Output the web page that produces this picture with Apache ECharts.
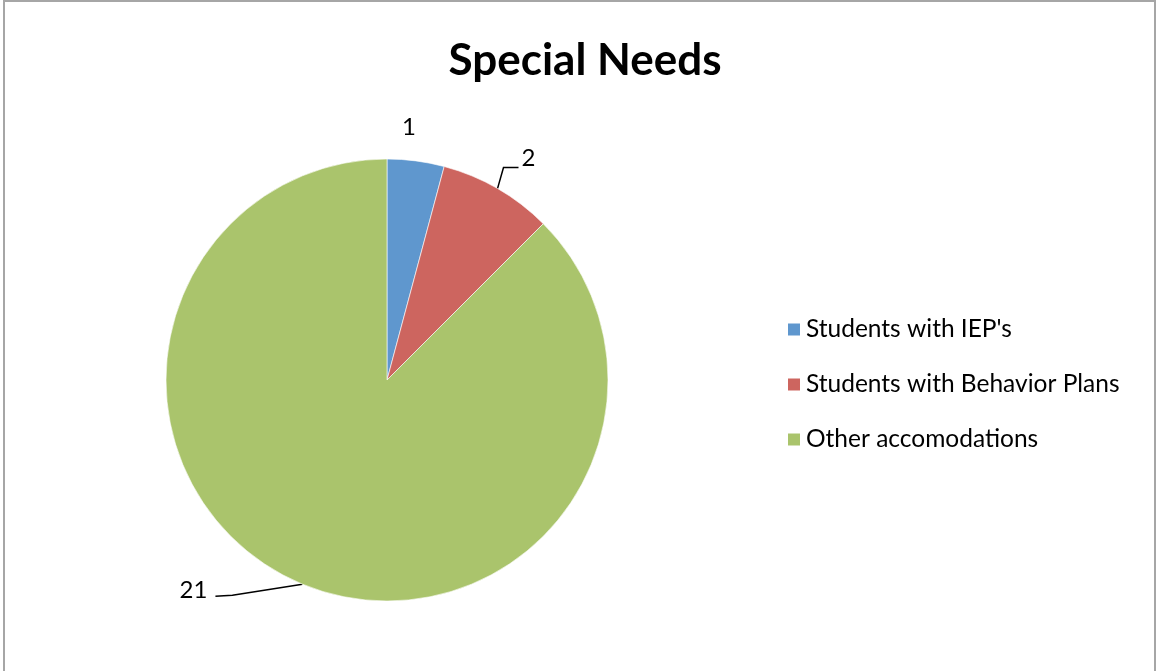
<!DOCTYPE html>
<html>
<head>
<meta charset="utf-8">
<script src="https://cdn.jsdelivr.net/npm/echarts@6/dist/echarts.min.js"></script>
<style>
  html, body { margin: 0; padding: 0; background: #fff; }
  #chart { width: 1157px; height: 671px; }
</style>
</head>
<body>
<div id="chart"></div>
<script>
// Special needs breakdown
const categories = ["Students with IEP's", 'Students with Behavior Plans', 'Other accomodations'];
const counts = [1, 2, 21];
const sliceColors = ['#5F97CE', '#CD655F', '#AAC46C'];

const FONT = 'Lato, "Open Sans", sans-serif';

const data = categories.map((name, i) => ({
  name: name,
  value: counts[i],
  itemStyle: { color: sliceColors[i] },
  labelLine: { show: i !== 0 }
}));

// Place each value label relative to the point where its leader leaves the slice edge.
function placeLabel(params) {
  const pts = params.labelLinePoints;
  if (!pts) return {};
  const p = pts[0];
  if (params.dataIndex === 0) {
    return { x: p[0] - 7, y: p[1] - 34, align: 'center', verticalAlign: 'middle' };
  }
  if (params.dataIndex === 1) {
    return {
      x: p[0] + 24, y: p[1] - 30, align: 'left', verticalAlign: 'middle',
      labelLinePoints: [[p[0], p[1]], [p[0] + 6, p[1] - 21], [p[0] + 21, p[1] - 21]]
    };
  }
  return {
    x: p[0] - 95, y: p[1] + 6, align: 'right', verticalAlign: 'middle',
    labelLinePoints: [[p[0], p[1]], [p[0] - 70, p[1] + 11], [p[0] - 87, p[1] + 12]]
  };
}

const chart = echarts.init(document.getElementById('chart'), null, { renderer: 'canvas' });
chart.setOption({
  animation: false,
  backgroundColor: '#ffffff',
  title: {
    text: 'Special Needs',
    left: 580,
    top: 34,
    textAlign: 'center',
    textStyle: { fontFamily: FONT, fontWeight: 'bold', fontSize: 44, color: '#000' }
  },
  legend: {
    orient: 'vertical',
    left: 786,
    top: 317,
    padding: 0,
    itemWidth: 14,
    itemHeight: 14,
    itemGap: 30,
    icon: 'rect',
    data: categories,
    textStyle: { fontFamily: FONT, fontSize: 24.5, color: '#000' }
  },
  graphic: [{
    type: 'rect',
    shape: { x: 4, y: 1, width: 1151, height: 720 },
    style: { fill: 'none', stroke: '#a6a6a6', lineWidth: 2 },
    silent: true
  }],
  series: [{
    type: 'pie',
    center: [387, 380],
    radius: 221,
    startAngle: 90,
    clockwise: true,
    avoidLabelOverlap: false,
    itemStyle: { borderColor: '#ffffff', borderWidth: 0.6 },
    label: {
      show: true,
      position: 'outside',
      formatter: '{c}',
      fontFamily: FONT,
      fontSize: 24,
      color: '#000'
    },
    labelLine: { length: 20, length2: 12, lineStyle: { color: '#000', width: 1.5 } },
    labelLayout: placeLabel,
    data: data
  }]
});
</script>
</body>
</html>
